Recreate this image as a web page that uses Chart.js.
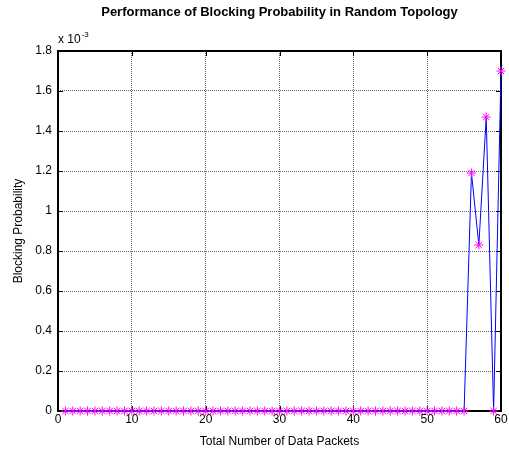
<!DOCTYPE html>
<html lang="en">
<head>
<meta charset="UTF-8">
<title>Blocking Probability</title>
<script src="https://cdn.jsdelivr.net/npm/chart.js@4.4.0/dist/chart.umd.min.js"></script>
<style>
  body { margin: 0; background: #fff; }
  #wrap { width: 509px; height: 449px; }
</style>
</head>
<body>
<div id="wrap"><canvas id="chart" width="509" height="449"></canvas></div>
<script>
// packets 1..60, blocking probability in units of 1e-3
const packets = [];
for (let i = 1; i <= 60; i++) packets.push(i);
const blocking = [
  0, 0, 0, 0, 0, 0, 0, 0, 0, 0,
  0, 0, 0, 0, 0, 0, 0, 0, 0, 0,
  0, 0, 0, 0, 0, 0, 0, 0, 0, 0,
  0, 0, 0, 0, 0, 0, 0, 0, 0, 0,
  0, 0, 0, 0, 0, 0, 0, 0, 0, 0,
  0, 0, 0, 0, 0, 1.19, 0.83, 1.47, 0, 1.70
];
const titleText = 'Performance of Blocking Probability in Random Topology';
const xLabel = 'Total Number of Data Packets';
const yLabel = 'Blocking Probability';

const FONT = 'Liberation Sans, Arial, Helvetica, sans-serif';

// box + inward ticks under the data, title and exponent label on top
const matlabBox = {
  id: 'matlabBox',
  beforeDatasetsDraw(chart) {
    const { ctx, chartArea: a, scales: { x, y } } = chart;
    ctx.save();
    ctx.strokeStyle = '#000';
    ctx.lineWidth = 1;
    ctx.beginPath();
    x.ticks.forEach(t => {
      const px = Math.round(x.getPixelForValue(t.value)) + 0.5;
      ctx.moveTo(px, a.bottom); ctx.lineTo(px, a.bottom - 5);
      ctx.moveTo(px, a.top); ctx.lineTo(px, a.top + 5);
    });
    y.ticks.forEach(t => {
      const py = Math.round(y.getPixelForValue(t.value)) + 0.5;
      ctx.moveTo(a.left, py); ctx.lineTo(a.left + 5, py);
      ctx.moveTo(a.right, py); ctx.lineTo(a.right - 5, py);
    });
    ctx.stroke();
    ctx.lineWidth = 2;
    ctx.strokeRect(a.left, a.top, a.right - a.left, a.bottom - a.top);
    ctx.restore();
  },
  afterDraw(chart) {
    const { ctx, chartArea: a } = chart;
    ctx.save();
    ctx.fillStyle = '#000';
    ctx.textBaseline = 'alphabetic';
    ctx.textAlign = 'center';
    ctx.font = 'bold 13px ' + FONT;
    ctx.fillText(titleText, (a.left + a.right) / 2, 16);

    ctx.textAlign = 'left';
    ctx.font = '12px ' + FONT;
    ctx.fillText('x 10', a.left, 43);
    const w = ctx.measureText('x 10').width;
    ctx.font = '8px ' + FONT;
    ctx.fillText('-3', a.left + w + 1, 37);
    ctx.restore();
  }
};

new Chart(document.getElementById('chart'), {
  type: 'line',
  data: {
    labels: packets,
    datasets: [{
      data: blocking,
      borderColor: '#0000ff',
      borderWidth: 1,
      pointStyle: 'star',
      pointRadius: 4.5,
      pointBorderColor: '#ff00ff',
      pointBackgroundColor: '#ff00ff',
      pointBorderWidth: 1,
      tension: 0,
      clip: false
    }]
  },
  options: {
    responsive: false,
    animation: false,
    layout: { padding: { top: 51, right: 8, left: 0, bottom: 0 } },
    plugins: { legend: { display: false }, title: { display: false }, tooltip: { enabled: false } },
    scales: {
      x: {
        type: 'linear',
        min: 0, max: 60,
        ticks: { stepSize: 10, color: '#000', font: { family: FONT, size: 12 }, padding: 1, maxRotation: 0 },
        grid: { color: '#666', lineWidth: 1, drawTicks: false },
        border: { display: false, dash: [1, 1] },
        title: { display: true, text: xLabel, color: '#000', font: { family: FONT, size: 12 }, padding: { top: 1, bottom: 0 } },
        afterFit(s) { s.height = 38; }
      },
      y: {
        min: 0, max: 1.8,
        ticks: {
          stepSize: 0.2, color: '#000', font: { family: FONT, size: 12 }, padding: 6,
          callback: v => String(+v.toFixed(1))
        },
        grid: { color: '#666', lineWidth: 1, drawTicks: false },
        border: { display: false, dash: [1, 1] },
        title: { display: true, text: yLabel, color: '#000', font: { family: FONT, size: 12 }, padding: { top: 11, bottom: 0 } },
        afterFit(s) { s.width = 58; }
      }
    }
  },
  plugins: [matlabBox]
});
</script>
</body>
</html>
